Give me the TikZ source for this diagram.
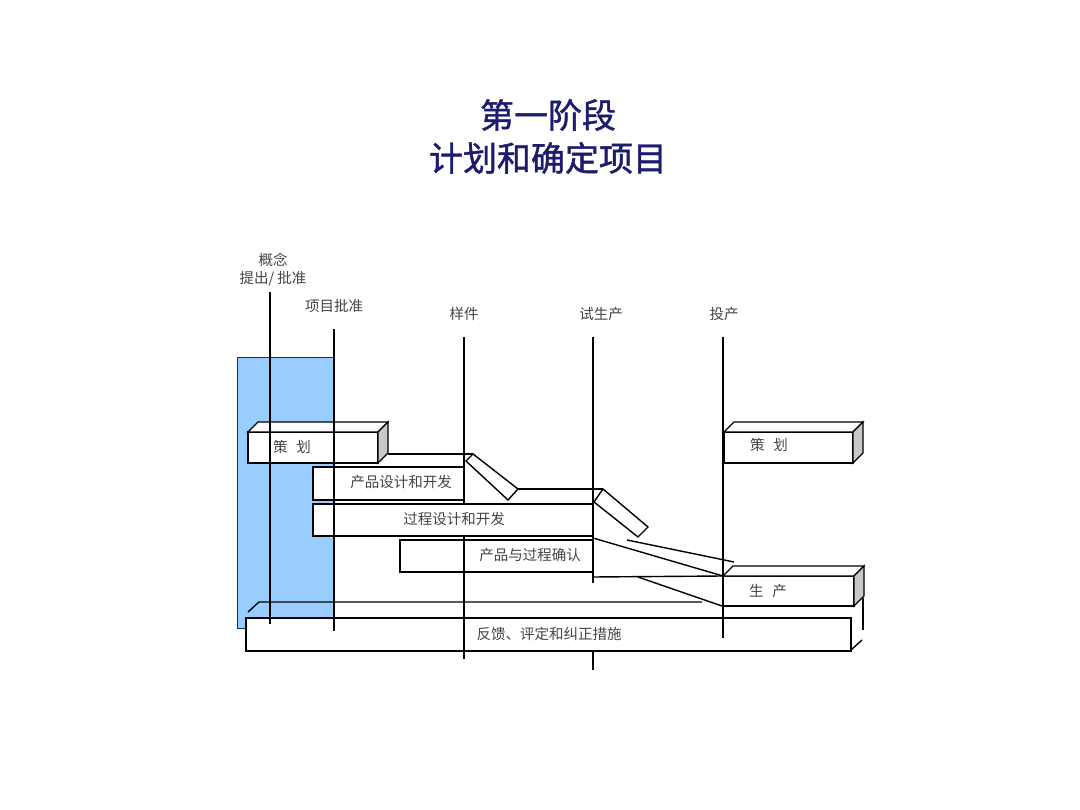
\documentclass[tikz,border=0pt]{standalone}
\usepackage{fontspec}
\newfontfamily\cjk{Noto Sans CJK SC}
\newfontfamily\cjkt[FakeBold=1.2]{Noto Sans CJK SC}
\definecolor{navy}{HTML}{1C1C6E}
\definecolor{txtgray}{HTML}{444444}
\definecolor{lightblue}{HTML}{99CCFF}
\definecolor{blueline}{HTML}{1A2A5A}
\definecolor{sidegray}{HTML}{C8C8C8}
\newcommand\topface[1]{%
  \draw[edge, fill=white] (#1.north west) -- ++(10,-10) -- ([shift={(10,-10)}]#1.north east) -- (#1.north east) -- cycle;}
\newcommand\sideface[1]{%
  \draw[edge, fill=sidegray] (#1.north east) -- ++(10,-10) -- ([shift={(10,-10)}]#1.south east) -- (#1.south east) -- cycle;}
\begin{document}
\begin{tikzpicture}[x=1pt,y=-1pt,
  box/.style={draw=black, fill=white, line width=1.4pt, inner sep=0pt, outer sep=0pt, anchor=north west},
  edge/.style={draw=black, line width=1.4pt, line join=miter},
  mile/.style={draw=black, line width=2.6pt},
  lbl/.style={text=txtgray, font=\cjk\fontsize{14.5}{16}\selectfont, inner sep=0pt},
  ttl/.style={text=navy, font=\cjkt\fontsize{34}{40}\selectfont, inner sep=0pt}]
\useasboundingbox[fill=white] (0,0) rectangle (1080,810);

% title
\node[ttl] (t1) at (548,115) {第一阶段};
\node[ttl] (t2) at (548,158) {计划和确定项目};

% concept / approval band
\node[box, fill=lightblue, draw=blueline, line width=1pt, minimum width=97pt, minimum height=270pt] (cp) at (237,358) {};

% feedback bar (partial top and side)
\coordinate (fbt1) at (248,612);
\coordinate (fbt2) at (259,602);
\coordinate (fbt3) at (702,602);
\draw[edge] (fbt1) -- (fbt2) -- (fbt3);
\coordinate (fbr1) at (863,598);
\coordinate (fbr2) at (863,630);
\coordinate (fbr3) at (851,650);
\coordinate (fbr4) at (862,640);
\draw[edge] (fbr1) -- (fbr2);
\draw[edge] (fbr3) -- (fbr4);
\node[box, minimum width=605pt, minimum height=33pt] (fb) at (246,618) {};
\node[lbl] (fbl) at (549,634) {反馈、评定和纠正措施};

% planning box (left)
\node[box, minimum width=130pt, minimum height=31pt] (ch1) at (248,432) {};
\topface{ch1}
\sideface{ch1}
\node[lbl] (ch1l) at (292,447) {策\hspace{9pt}划};

% product design band
\coordinate (pdb0) at (388,454);
\coordinate (pdb1) at (473,454);
\coordinate (pdb2) at (518,489);
\coordinate (pdb3) at (508,500);
\coordinate (pdb4) at (466,461);
\draw[edge, fill=white] (pdb4) -- (pdb1) -- (pdb2) -- (pdb3) -- cycle;
\draw[edge] (pdb0) -- (pdb1);

% process design band
\coordinate (prb1) at (603,489);
\coordinate (prb2) at (648,527);
\coordinate (prb3) at (638,537);
\coordinate (prb4) at (594,502);
\draw[edge] (pdb2) -- (prb1);
\draw[edge, fill=white] (prb4) -- (prb1) -- (prb2) -- (prb3) -- cycle;

% sample milestone line (hidden behind process design box)
\coordinate (m3t) at (464,337); \coordinate (m3a) at (464,504);
\coordinate (m3c) at (464,536); \coordinate (m3b) at (464,659);
\draw[mile] (m3t) -- (m3a);

% boxes
\node[box, minimum width=151pt, minimum height=33pt] (pd) at (313,467) {};
\node[lbl] (pdl) at (401,482) {产品设计和开发};
\node[box, minimum width=280pt, minimum height=32pt] (prd) at (313,504) {};
\node[lbl] (prdl) at (454,519) {过程设计和开发};
\node[box, minimum width=193pt, minimum height=32pt] (val) at (400,540) {};
\node[lbl] (vall) at (530,555) {产品与过程确认};

% production box
\node[box, minimum width=131pt, minimum height=30pt] (sc) at (723,576) {};
\topface{sc}
\sideface{sc}
\node[lbl] (scl) at (768,591) {生\hspace{9pt}产};

% lines from validation to production
\coordinate (va1) at (593,538);
\coordinate (va2) at (627,540);
\coordinate (va3) at (734,562);
\coordinate (va4) at (593,577);
\coordinate (va5) at (638,577);
\coordinate (va6) at (722,606);
\draw[edge] (va1) -- (sc.north west);
\draw[edge] (va2) -- (va3);
\draw[edge] (va4) -- (sc.north west);
\draw[edge] (va5) -- (va6);

% planning box (right)
\node[box, minimum width=129pt, minimum height=31pt] (ch2) at (724,432) {};
\topface{ch2}
\sideface{ch2}
\node[lbl] (ch2l) at (769,445) {策\hspace{9pt}划};

% milestone labels
\node[lbl, align=center] (m1l) at (273,270) {概念\\[2pt]提出/ 批准};
\node[lbl] (m2l) at (334,306) {项目批准};
\node[lbl] (m3l) at (464,314) {样件};
\node[lbl] (m4l) at (601,314) {试生产};
\node[lbl] (m5l) at (724,314) {投产};

% milestone lines
\coordinate (m1t) at (270,292); \coordinate (m1b) at (270,624);
\coordinate (m2t) at (334,329); \coordinate (m2b) at (334,631);
\coordinate (m4t) at (593,337); \coordinate (m4m) at (593,583);
\coordinate (m4n) at (593,651); \coordinate (m4b) at (593,670);
\coordinate (m5t) at (723,337); \coordinate (m5b) at (723,638);
\draw[mile] (m1t) -- (m1b);
\draw[mile] (m2t) -- (m2b);
\draw[mile] (m3c) -- (m3b);
\draw[mile] (m4t) -- (m4m);
\draw[mile] (m4n) -- (m4b);
\draw[mile] (m5t) -- (m5b);
\end{tikzpicture}
\end{document}
